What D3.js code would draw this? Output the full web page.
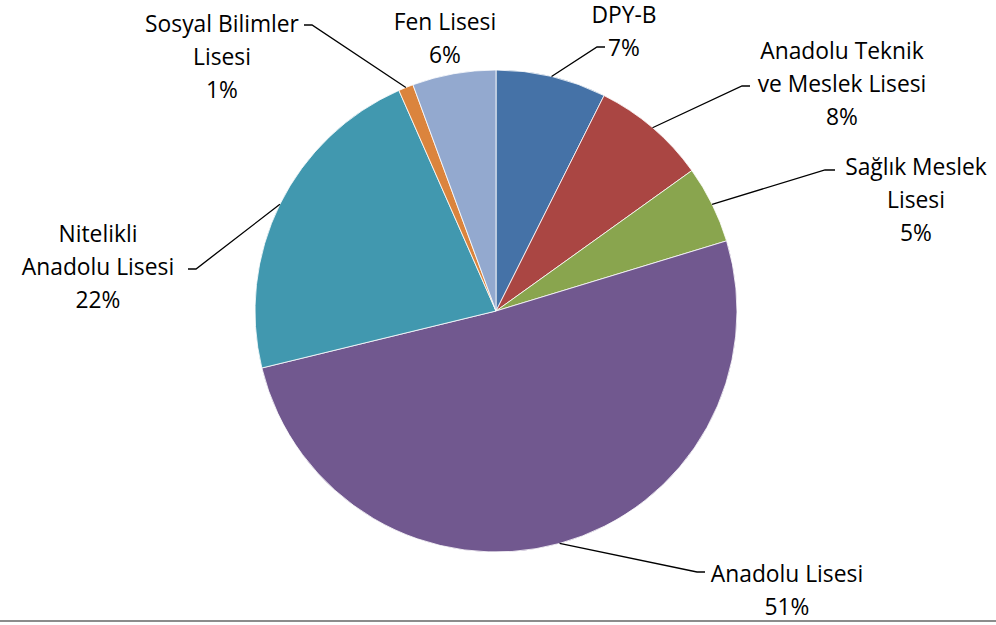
<!DOCTYPE html>
<html><head><meta charset="utf-8">
<script src="https://cdn.jsdelivr.net/npm/d3@7"></script>
<style>html,body{margin:0;padding:0;background:#fff;} svg{display:block;}</style>
</head><body>
<svg id="chart" width="996" height="625"></svg>
<script>
const categories = ["DPY-B", "Anadolu Teknik ve Meslek Lisesi", "Sağlık Meslek Lisesi", "Anadolu Lisesi", "Nitelikli Anadolu Lisesi", "Sosyal Bilimler Lisesi", "Fen Lisesi"];
const values = [7.4, 7.7, 5.2, 50.9, 22.2, 1.0, 5.6];
const labelLines = [["DPY-B"], ["Anadolu Teknik", "ve Meslek Lisesi"], ["Sağlık Meslek", "Lisesi"], ["Anadolu Lisesi"], ["Nitelikli", "Anadolu Lisesi"], ["Sosyal Bilimler", "Lisesi"], ["Fen Lisesi"]];
const colors = ["#4572A7", "#AA4643", "#89A54E", "#71588F", "#4198AF", "#DB843D", "#93A9CF"];

// layout (label block centre x, first line centre y, leader elbow point)
const layout = [
  {x: 624, y: 15.5, elbow: [597, 47], hook: 8},
  {x: 842, y: 51, elbow: [742, 86], hook: 8},
  {x: 916, y: 167, elbow: [825, 170], hook: 10},
  {x: 787, y: 574, elbow: [697, 572], hook: 8},
  {x: 98, y: 234, elbow: [196, 269], hook: -8},
  {x: 222, y: 24, elbow: [312, 25], hook: -8},
  {x: 445, y: 22, elbow: null}
];

const svg = d3.select("#chart");
const cx = 496, cy = 311, R = 241;
const total = d3.sum(values);
const pie = d3.pie().sort(null).value(d => d)(values);
const arc = d3.arc().innerRadius(0).outerRadius(R);
const edge = d3.arc().innerRadius(R).outerRadius(R);

const g = svg.append("g").attr("transform", `translate(${cx},${cy})`);
g.selectAll("path.slice").data(pie).enter().append("path")
  .attr("class", "slice")
  .attr("d", arc)
  .attr("fill", (d, i) => colors[i])
  .attr("stroke", "#ffffff").attr("stroke-width", 0.8);

// leader lines
pie.forEach((d, i) => {
  const L = layout[i];
  if (!L.elbow) return;
  const p = edge.centroid(d);
  const px = p[0] + cx, py = p[1] + cy;
  const ex = L.elbow[0], ey = L.elbow[1];
  svg.append("polyline")
    .attr("points", `${px},${py} ${ex},${ey} ${ex + L.hook},${ey}`)
    .attr("fill", "none").attr("stroke", "#000").attr("stroke-width", 1.3);
});

// labels
const fs = 22.8, lh = 33;
pie.forEach((d, i) => {
  const L = layout[i];
  const lines = labelLines[i].concat([Math.round(values[i] / total * 100) + "%"]);
  const t = svg.append("text")
    .attr("text-anchor", "middle")
    .attr("font-family", "'Open Sans', 'Noto Sans', sans-serif")
    .attr("font-size", fs)
    .attr("fill", "#000");
  lines.forEach((ln, k) => {
    t.append("tspan").attr("x", L.x).attr("y", L.y + k * lh).attr("dy", "0.35em").text(ln);
  });
});

// bottom border
svg.append("line").attr("x1", 0).attr("x2", 996).attr("y1", 621).attr("y2", 621)
  .attr("stroke", "#8c8c8c").attr("stroke-width", 2);
</script>
</body></html>
